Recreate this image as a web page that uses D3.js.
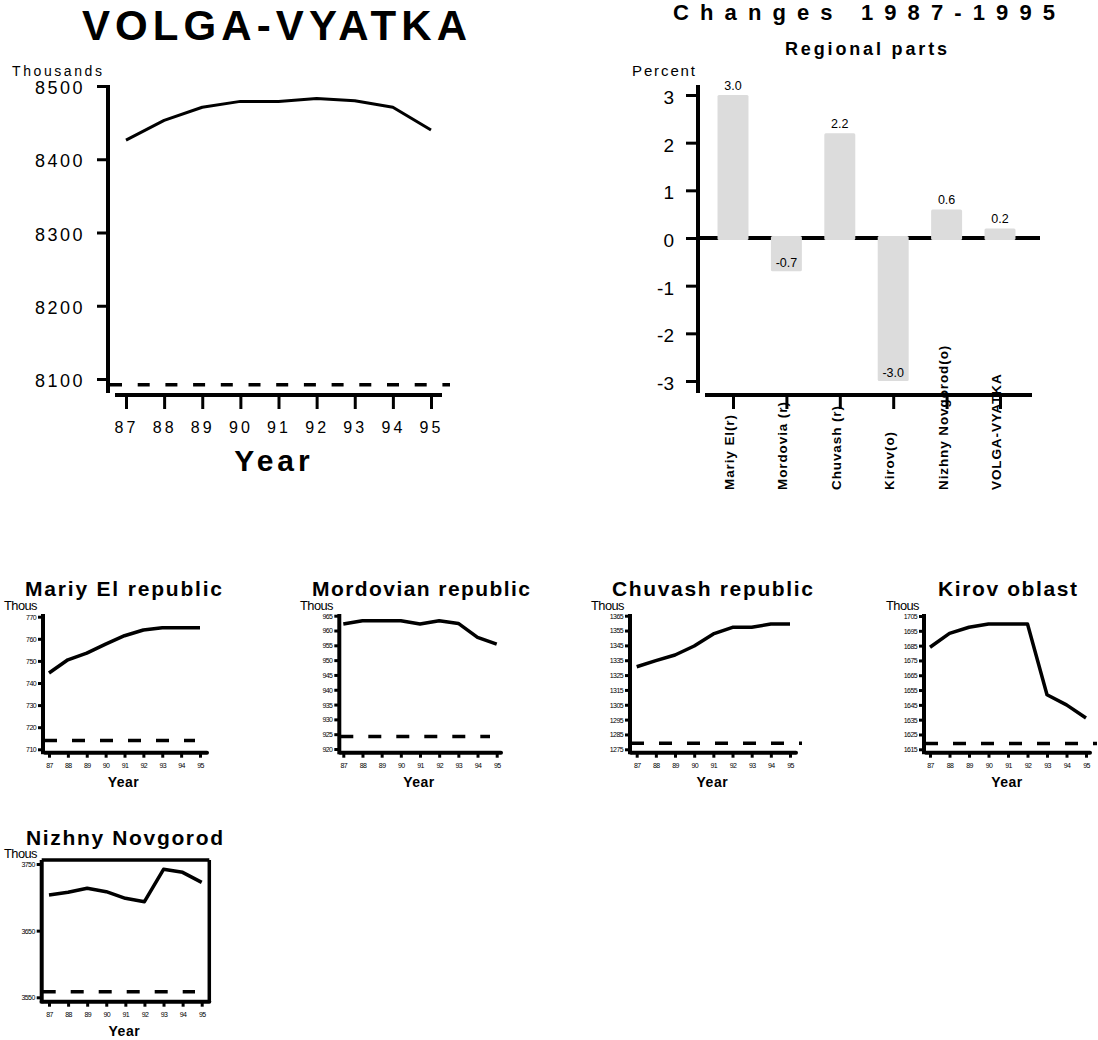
<!DOCTYPE html>
<html><head><meta charset="utf-8">
<script src="https://cdn.jsdelivr.net/npm/d3@7"></script>
<style>
body{margin:0;background:#fff}
svg{display:block}
text{font-family:"Liberation Sans",Arial,sans-serif;fill:#000}
</style>
</head><body>
<svg id="chart" width="1098" height="1040"></svg>
<script>
// ---------------- DATA ----------------
const years = [87, 88, 89, 90, 91, 92, 93, 94, 95];

const volgaVyatka = [8426, 8453, 8471, 8479, 8479, 8483, 8480, 8471, 8440];
const volgaVyatkaTicks = [8100, 8200, 8300, 8400, 8500];
const volgaVyatkaRef = 8092;

const barCategories = ["Mariy El(r)", "Mordovia (r)", "Chuvash (r)", "Kirov(o)", "Nizhny Novgorod(o)", "VOLGA-VYATKA"];
const barValues = [3.0, -0.7, 2.2, -3.0, 0.6, 0.2];
const barTicks = [-3, -2, -1, 0, 1, 2, 3];

const regionTitles = ["Mariy El republic", "Mordovian republic", "Chuvash republic", "Kirov oblast", "Nizhny Novgorod"];
const mariyEl  = [744.5, 750.5, 753.5, 757.6, 761.4, 764.0, 765.0, 765.0, 765.0];
const mordovia = [962.2, 963.3, 963.3, 963.3, 962.2, 963.3, 962.4, 957.7, 955.4];
const chuvash  = [1330.6, 1334.7, 1338.5, 1344.6, 1352.7, 1357.2, 1357.2, 1359.4, 1359.4];
const kirov    = [1683.9, 1693.3, 1697.4, 1699.6, 1699.6, 1699.6, 1651.8, 1645.0, 1636.1];
const nizhny   = [3703.5, 3707.5, 3713.5, 3708.5, 3698.5, 3693.5, 3742.0, 3737.5, 3722.5];
const mariyElTicks  = [710, 720, 730, 740, 750, 760, 770];
const mordoviaTicks = [920, 925, 930, 935, 940, 945, 950, 955, 960, 965];
const chuvashTicks  = [1275, 1285, 1295, 1305, 1315, 1325, 1335, 1345, 1355, 1365];
const kirovTicks    = [1615, 1625, 1635, 1645, 1655, 1665, 1675, 1685, 1695, 1705];
const nizhnyTicks   = [3550, 3650, 3750];
const regionRefs = [714, 924.2, 1279, 1619, 3558.4];

// ---------------- DRAWING ----------------
const svg = d3.select("#chart");
const plainNum = d => String(d).replace("\u2212", "-");
const oneDec = d => d3.format(".1f")(d).replace("\u2212", "-");

function hline(g, x1, x2, y, w, dash) {
  const l = g.append("line").attr("x1", x1).attr("x2", x2).attr("y1", y).attr("y2", y)
    .attr("stroke", "#000").attr("stroke-width", w);
  if (dash) l.attr("stroke-dasharray", dash);
  return l;
}
function vline(g, x, y1, y2, w) {
  return g.append("line").attr("x1", x).attr("x2", x).attr("y1", y1).attr("y2", y2)
    .attr("stroke", "#000").attr("stroke-width", w);
}
function styleAxis(g, w) {
  g.select(".domain").remove();
  g.selectAll(".tick line").attr("stroke", "#000").attr("stroke-width", w);
}

// ===== Main chart: VOLGA-VYATKA =====
{
  const g = svg.append("g");
  const x = d3.scaleLinear().domain([87, 95]).range([126, 431]);
  const y = d3.scaleLinear().domain([8100, 8500]).range([379, 86]);

  g.append("text").attr("x", 82).attr("y", 40).attr("font-size", 42).attr("font-weight", "bold")
    .attr("textLength", 385).attr("lengthAdjust", "spacing").text("VOLGA-VYATKA");
  g.append("text").attr("x", 12).attr("y", 76).attr("font-size", 14)
    .attr("textLength", 90).attr("lengthAdjust", "spacing").text("Thousands");

  const ya = g.append("g").attr("transform", "translate(108,0)")
    .call(d3.axisLeft(y).tickValues(volgaVyatkaTicks).tickSize(11).tickPadding(12).tickFormat(plainNum));
  styleAxis(ya, 3);
  ya.selectAll(".tick text").attr("font-size", 18).attr("letter-spacing", 2.5).attr("dy", "0.42em")
    .attr("font-family", "Liberation Sans, Arial, sans-serif").attr("fill", "#000");
  vline(g, 108, 85, 393, 4);

  const xa = g.append("g").attr("transform", "translate(0,395)")
    .call(d3.axisBottom(x).tickValues(years).tickSize(14).tickFormat(plainNum));
  styleAxis(xa, 3);
  xa.selectAll(".tick text").attr("y", 38).attr("dy", 0).attr("font-size", 16).attr("letter-spacing", 3)
    .attr("font-family", "Liberation Sans, Arial, sans-serif").attr("fill", "#000");
  hline(g, 115, 442, 395, 4);

  g.append("text").attr("x", 274).attr("y", 471).attr("text-anchor", "middle").attr("font-size", 30)
    .attr("font-weight", "bold").attr("letter-spacing", 4).text("Year");

  hline(g, 110, 450, y(volgaVyatkaRef), 3.5, "12,15.7");

  g.append("path").datum(volgaVyatka)
    .attr("fill", "none").attr("stroke", "#000").attr("stroke-width", 3)
    .attr("stroke-linejoin", "round")
    .attr("d", d3.line().x((d, i) => x(years[i])).y(d => y(d)));
}

// ===== Bar chart: Changes 1987-1995 =====
{
  const g = svg.append("g");
  const x = d3.scalePoint().domain(barCategories).range([733, 1000]);
  const y = d3.scaleLinear().domain([-3, 3]).range([381, 95]);
  const bw = x.step() * 0.58;

  g.append("text").attr("x", 673).attr("y", 20).attr("font-size", 22).attr("font-weight", "bold")
    .attr("textLength", 382).attr("lengthAdjust", "spacing").text("Changes 1987-1995");
  g.append("text").attr("x", 785).attr("y", 55).attr("font-size", 18).attr("font-weight", "bold")
    .attr("textLength", 162).attr("lengthAdjust", "spacing").text("Regional parts");
  g.append("text").attr("x", 632).attr("y", 76).attr("font-size", 15)
    .attr("textLength", 63).attr("lengthAdjust", "spacing").text("Percent");

  const ya = g.append("g").attr("transform", "translate(698,0)")
    .call(d3.axisLeft(y).tickValues(barTicks).tickSize(12).tickPadding(12).tickFormat(plainNum));
  styleAxis(ya, 3);
  ya.selectAll(".tick text").attr("font-size", 19).attr("dy", "0.45em")
    .attr("font-family", "Liberation Sans, Arial, sans-serif").attr("fill", "#000");
  vline(g, 698, 85, 393, 4);

  // zero line (behind bars)
  hline(g, 698, 1040, y(0), 4);

  g.selectAll("rect.bar").data(barValues).join("rect").attr("class", "bar")
    .attr("x", (d, i) => x(barCategories[i]) - bw / 2)
    .attr("width", bw)
    .attr("y", d => d >= 0 ? y(d) : y(0) - 2)
    .attr("height", d => Math.abs(y(d) - y(0)) + 2)
    .attr("rx", 1.5)
    .attr("fill", "#dcdcdc");

  g.selectAll("text.val").data(barValues).join("text").attr("class", "val")
    .attr("x", (d, i) => x(barCategories[i]))
    .attr("y", d => d >= 0 ? y(d) - 5 : y(d) - 4)
    .attr("text-anchor", "middle").attr("font-size", 12.5).attr("fill", "#111")
    .text(oneDec);

  const xa = g.append("g").attr("transform", "translate(0,395)")
    .call(d3.axisBottom(x).tickSize(14).tickFormat(""));
  styleAxis(xa, 3);
  hline(g, 705, 1032, 395, 4);

  g.selectAll("text.cat").data(barCategories).join("text").attr("class", "cat")
    .attr("transform", d => `translate(${x(d) + 1},490) rotate(-90)`)
    .attr("font-size", 13.5).attr("font-weight", "bold").attr("letter-spacing", 0.9)
    .text(d => d);
}

// ===== Small multiples =====
const regionSeries = [mariyEl, mordovia, chuvash, kirov, nizhny];
const regionTicks = [mariyElTicks, mordoviaTicks, chuvashTicks, kirovTicks, nizhnyTicks];
const panelLayout = [
  {ax: 43,    x0: 49,    x1: 200,   yTop: 616.7, yBot: 749.3, axTop: 614, xAxY: 752.7, xaL: 45,  xaR: 207,  dashR: 195, tx: 25,  tw: 197, ty: 596, thx: 4,   thy: 610, frame: false},
  {ax: 339.3, x0: 343.3, x1: 496.7, yTop: 615.7, yBot: 749,   axTop: 614, xAxY: 752.7, xaL: 340, xaR: 501,  dashR: 490, tx: 312, tw: 218, ty: 596, thx: 300, thy: 610, frame: false},
  {ax: 630,   x0: 636.7, x1: 790,   yTop: 615.7, yBot: 749.3, axTop: 614, xAxY: 752.7, xaL: 631, xaR: 796,  dashR: 802, tx: 612, tw: 201, ty: 596, thx: 591, thy: 610, frame: false},
  {ax: 924,   x0: 930,   x1: 1086,  yTop: 616,   yBot: 749.3, axTop: 614, xAxY: 752.7, xaL: 926, xaR: 1090, dashR: 1097, tx: 938, tw: 139, ty: 596, thx: 886, thy: 610, frame: false},
  {ax: 41.7,  x0: 49,    x1: 201.7, yTop: 864,   yBot: 997.3, axTop: 860, xAxY: 1001.7, xaL: 41.7, xaR: 209.3, dashR: 195, tx: 26, tw: 197, ty: 845, thx: 4, thy: 858, frame: true}
];

regionSeries.forEach((vals, k) => {
  const L = panelLayout[k];
  const ticks = regionTicks[k];
  const g = svg.append("g");
  const x = d3.scaleLinear().domain([87, 95]).range([L.x0, L.x1]);
  const y = d3.scaleLinear().domain([d3.min(ticks), d3.max(ticks)]).range([L.yBot, L.yTop]);

  g.append("text").attr("x", L.tx).attr("y", L.ty).attr("font-size", 21).attr("font-weight", "bold")
    .attr("textLength", L.tw).attr("lengthAdjust", "spacing").text(regionTitles[k]);
  g.append("text").attr("x", L.thx).attr("y", L.thy).attr("font-size", 12)
    .attr("textLength", 33).attr("lengthAdjust", "spacingAndGlyphs").attr("letter-spacing", -0.5).text("Thous");

  const ya = g.append("g").attr("transform", `translate(${L.ax},0)`)
    .call(d3.axisLeft(y).tickValues(ticks).tickSize(5).tickPadding(2).tickFormat(plainNum));
  styleAxis(ya, 3);
  ya.selectAll(".tick text").attr("font-size", 7).attr("letter-spacing", -0.6).attr("dy", "0.35em")
    .attr("font-family", "Liberation Sans, Arial, sans-serif").attr("fill", "#000");
  vline(g, L.ax, L.axTop, L.xAxY + 1.5, 4);

  const xa = g.append("g").attr("transform", `translate(0,${L.xAxY})`)
    .call(d3.axisBottom(x).tickValues(years).tickSize(5).tickFormat(plainNum));
  styleAxis(xa, 3);
  xa.selectAll(".tick text").attr("y", 15).attr("dy", 0).attr("font-size", 7).attr("letter-spacing", -0.6)
    .attr("font-family", "Liberation Sans, Arial, sans-serif").attr("fill", "#000");
  hline(g, L.xaL, L.xaR, L.xAxY, 4).attr("stroke-linecap", "round");

  if (L.frame) {
    hline(g, L.ax, L.xaR, L.axTop, 3.5);
    vline(g, L.xaR, L.axTop, L.xAxY, 3.5);
  }

  g.append("text").attr("x", (L.x0 + L.x1) / 2 - 1).attr("y", L.xAxY + 34.5).attr("text-anchor", "middle")
    .attr("font-size", 14).attr("font-weight", "bold").attr("letter-spacing", 0.5).text("Year");

  hline(g, L.ax + 1, L.dashR, y(regionRefs[k]), 3.5, "13,15");

  g.append("path").datum(vals)
    .attr("fill", "none").attr("stroke", "#000").attr("stroke-width", 3.5)
    .attr("stroke-linejoin", "round")
    .attr("d", d3.line().x((d, i) => x(years[i])).y(d => y(d)));
});
</script>
</body></html>
